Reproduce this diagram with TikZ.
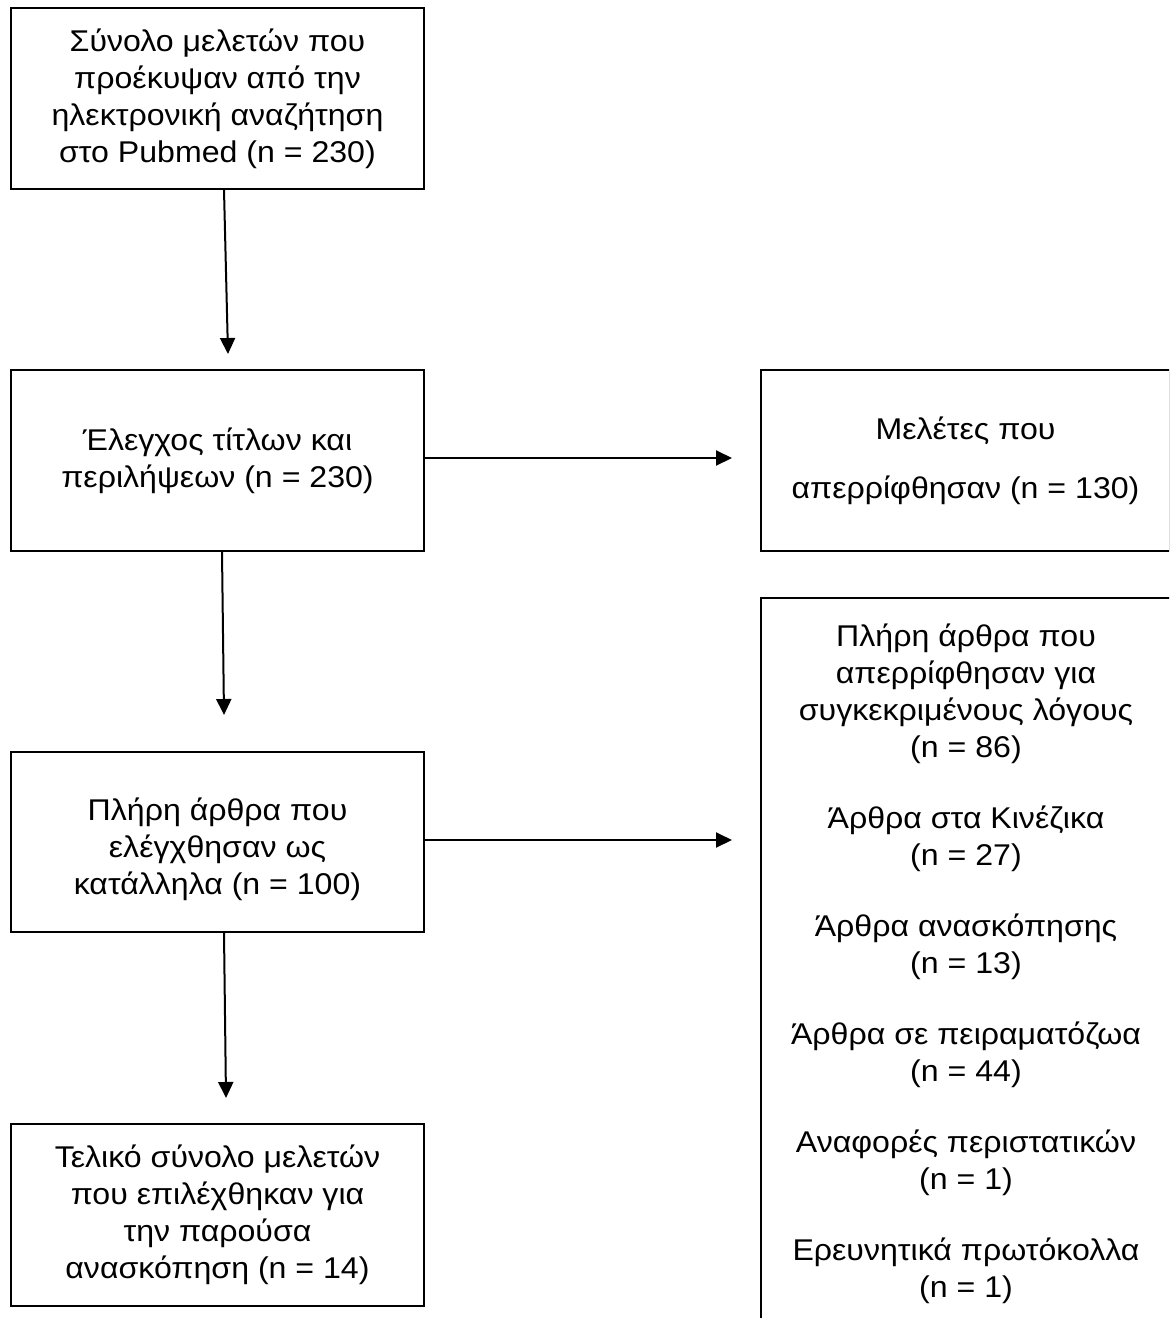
\documentclass[tikz,border=0pt]{standalone}
\usepackage{fontspec}
\setmainfont{Liberation Sans}[FakeStretch=1.07]
\usetikzlibrary{arrows.meta}

\begin{document}
\begin{tikzpicture}[x=0.5pt,y=-0.5pt,
  box/.style={draw,line width=1pt,align=center,inner sep=0pt,
    font=\fontsize{15}{18.5}\selectfont},
  arr/.style={line width=1pt,-{Triangle[width=7.5pt,length=8pt]}}]
\useasboundingbox (0,0) rectangle (1169,1318);
\clip (0,0) rectangle (1169,1318);
\node[box,minimum width=206.5pt,minimum height=90.5pt] (srch) at (217.5,98.5)
  {Σύνολο μελετών που\\προέκυψαν από την\\ηλεκτρονική αναζήτηση\\στο Pubmed (n = 230)};
\node[box,minimum width=206.5pt,minimum height=90.5pt] (scr) at (217.5,460.5)
  {Έλεγχος τίτλων και\\περιλήψεων (n = 230)};
\node[box,minimum width=204.5pt,minimum height=90.5pt,
  font=\fontsize{15}{29.5}\selectfont] (excl) at (965.5,460.5)
  {Μελέτες που\\απερρίφθησαν (n = 130)};
\node[box,minimum width=206.5pt,minimum height=90pt] (full) at (217.5,842)
  {\rule{0pt}{19pt}Πλήρη άρθρα που\\ελέγχθησαν ως\\κατάλληλα (n = 100)};
\node[box,minimum width=206.5pt,minimum height=91pt] (incl) at (217.5,1215)
  {Τελικό σύνολο μελετών\\που επιλέχθηκαν για\\την παρούσα\\ανασκόπηση (n = 14)};
\node[box,minimum width=205pt,minimum height=366pt] (rsn) at (966,964)
  {Πλήρη άρθρα που\\απερρίφθησαν για\\συγκεκριμένους λόγους\\(n = 86)\\[17pt]
   Άρθρα στα Κινέζικα\\(n = 27)\\[17pt]
   Άρθρα ανασκόπησης\\(n = 13)\\[17pt]
   Άρθρα σε πειραματόζωα\\(n = 44)\\[17pt]
   Αναφορές περιστατικών\\(n = 1)\\[17pt]
   Ερευνητικά πρωτόκολλα\\(n = 1)};
% arrows
\coordinate (fx) at (full.east -| rsn.west);
\draw[arr] ([xshift=3.25pt]srch.south) -- ([xshift=5.25pt,yshift=7.5pt]scr.north);
\draw[arr] ([xshift=2.25pt]scr.south) -- ([xshift=3.25pt,yshift=18pt]full.north);
\draw[arr] ([xshift=3.25pt]full.south) -- ([xshift=4.25pt,yshift=12.5pt]incl.north);
\draw[arr] ([yshift=1.25pt]scr.east) -- ([xshift=-14pt,yshift=1.25pt]excl.west);
\draw[arr] ([yshift=1pt]full.east) -- ([xshift=-14pt,yshift=1pt]fx);
\end{tikzpicture}
\end{document}
